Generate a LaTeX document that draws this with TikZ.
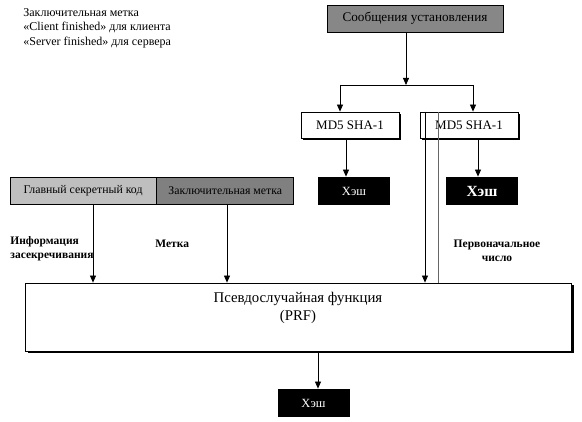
\documentclass[tikz,border=0pt]{standalone}
\usepackage{fontspec}
\setmainfont{Liberation Serif}
\usetikzlibrary{arrows.meta,positioning,shadows}
\tikzset{
  box/.style={draw,line width=0.8pt,minimum height=27pt,inner sep=2pt,font=\fontsize{11.8}{13}\selectfont},
  mdbox/.style={box,fill=white,minimum width=98pt,minimum height=26pt,font=\fontsize{13}{14}\selectfont,
    drop shadow={shadow xshift=2pt,shadow yshift=-2pt,fill=black,opacity=1}},
  hash/.style={fill=black,text=white,minimum width=72pt,minimum height=28pt,font=\fontsize{12.5}{13}\selectfont},
  lbl/.style={font=\bfseries\fontsize{11.5}{14}\selectfont,align=left}
}

\begin{document}
\begin{tikzpicture}[x=1pt,y=-1pt,->,>={Triangle[length=7pt,width=6pt]},line width=0.8pt]
  \useasboundingbox (0,0) rectangle (582,422);
  \node[anchor=north west,align=left,font=\fontsize{12}{14.5}\selectfont,inner sep=1pt] (note) at (22,7)
    {Заключительная метка\\«Client finished» для клиента\\«Server finished» для сервера};
  \node[box,fill=black!47,minimum width=176pt,font=\fontsize{13.2}{14}\selectfont] (msg) at (415,18.5) {Сообщения установления};
  \node[mdbox] (md1) at (350,125) {MD5 SHA-1};
  \node[mdbox] (md2) at (469,125) {MD5 SHA-1};
  \node[hash] (h1) at (354,191) {Хэш};
  \node[hash,font=\bfseries\fontsize{15.5}{16}\selectfont] (h2) at (482,191) {Хэш};
  \node[box,fill=black!25,minimum width=146pt] (key) at (83,190.5) {Главный секретный код};
  \node[box,fill=black!50,minimum width=137pt,right=0pt of key] (lab) {Заключительная метка};
  \node[draw,fill=white,minimum width=546pt,minimum height=68pt,
    drop shadow={shadow xshift=2.5pt,shadow yshift=-2.5pt,fill=black,opacity=1},
    label={[anchor=north,align=center,yshift=-6pt,font=\fontsize{14.8}{18}\selectfont]north:Псевдослучайная функция\\(PRF)}] (prf) at (298,317) {};
  \node[hash] (h3) at (313.5,403) {Хэш};
  \node[lbl,anchor=north west,inner sep=0pt] (info) at (10,236) {Информация\\засекречивания};
  \node[lbl,anchor=west,inner sep=0pt] (tag) at (155,244) {Метка};
  \node[lbl,align=center] (seed) at (497,251) {Первоначальное\\число};
  % split from handshake messages
  \coordinate (split) at (406,85);
  \coordinate (sl) at (340,85);
  \coordinate (sr) at (473,85);
  \draw (msg.south -| split) -- (split);
  \draw[-] (sl) -- (sr);
  \draw (sl) -- (sl |- md1.north);
  \draw (sr) -- (sr |- md2.north);
  \coordinate (c1) at (346,0);
  \coordinate (c2) at (478,0);
  \draw (md1.south -| c1) -- (h1.north -| c1);
  \draw (md2.south -| c2) -- (h2.north -| c2);
  % inputs of the PRF
  \coordinate (k) at (93,0);
  \coordinate (l) at (227,0);
  \coordinate (s1) at (425,0);
  \coordinate (s2) at (438,0);
  \draw (key.south -| k) -- (prf.north -| k);
  \draw (lab.south -| l) -- (prf.north -| l);
  \draw (md2.north -| s1) -- (prf.north -| s1);
  \draw[-,black!60] (md2.north -| s2) -- (prf.north -| s2);
  \coordinate (o) at (318,0);
  \draw (prf.south -| o) -- (h3.north -| o);
\end{tikzpicture}
\end{document}
